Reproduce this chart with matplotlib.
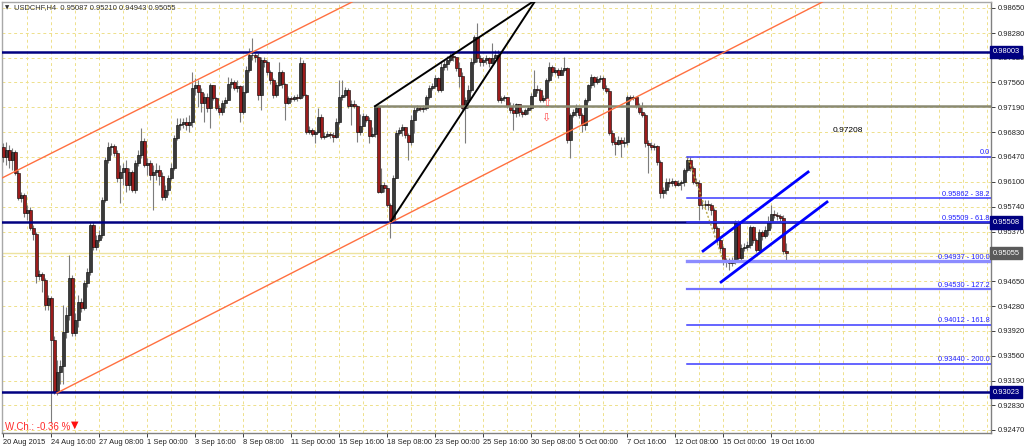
import matplotlib
matplotlib.use("Agg")
import matplotlib.pyplot as plt
import matplotlib.transforms as mtransforms
import numpy as np

# ---------------- data (USDCHF H4, prices in pips: value/1e4) ----------------
symbol_header = "USDCHF,H4  0.95087 0.95210 0.94943 0.95055"
first_open = 9661
closes = [
    9646, 9657, 9642, 9654, 9623, 9587, 9591, 9565, 9569, 9543,
    9534, 9472, 9475, 9467, 9430, 9440, 9379, 9302, 9332, 9340,
    9390, 9415, 9469, 9389, 9408, 9434, 9425, 9462, 9478, 9547,
    9515, 9525, 9532, 9584, 9642, 9661, 9662, 9652, 9616, 9624,
    9630, 9606, 9624, 9598, 9638, 9649, 9670, 9635, 9638, 9620,
    9624, 9628, 9619, 9588, 9598, 9616, 9630, 9674, 9693, 9695,
    9698, 9693, 9698, 9747, 9752, 9741, 9726, 9734, 9718, 9752,
    9733, 9718, 9712, 9726, 9730, 9753, 9756, 9748, 9750, 9712,
    9742, 9774, 9796, 9796, 9793, 9737, 9788, 9786, 9771, 9759,
    9737, 9752, 9771, 9753, 9726, 9733, 9731, 9734, 9733, 9784,
    9737, 9683, 9686, 9680, 9683, 9705, 9676, 9677, 9680, 9679,
    9676, 9698, 9734, 9737, 9745, 9721, 9724, 9721, 9683, 9692,
    9707, 9701, 9677, 9680, 9720, 9595, 9606, 9601, 9576, 9554,
    9616, 9682, 9686, 9690, 9679, 9668, 9701, 9715, 9718, 9717,
    9718, 9734, 9748, 9750, 9762, 9745, 9778, 9783, 9788, 9794,
    9793, 9777, 9765, 9718, 9730, 9745, 9786, 9822, 9791, 9786,
    9788, 9791, 9784, 9791, 9796, 9730, 9733, 9734, 9721, 9715,
    9711, 9724, 9712, 9709, 9715, 9718, 9736, 9746, 9745, 9730,
    9733, 9759, 9778, 9771, 9774, 9767, 9774, 9777, 9671, 9708,
    9712, 9718, 9708, 9693, 9730, 9752, 9764, 9756, 9761, 9762,
    9748, 9743, 9682, 9668, 9666, 9671, 9667, 9668, 9734, 9733,
    9734, 9721, 9712, 9708, 9667, 9664, 9661, 9663, 9639, 9594,
    9598, 9610, 9608, 9611, 9606, 9608, 9610, 9628, 9642, 9630,
    9610, 9608, 9576, 9576, 9578, 9576, 9569, 9543, 9525, 9513,
    9493, 9493, 9491, 9496, 9551, 9499, 9513, 9515, 9518, 9544,
    9525, 9510, 9537, 9531, 9540, 9551, 9563, 9562, 9560, 9557,
    9508.7, 9505.5,
]
highs = [
    9667, 9668, 9664, 9659, 9657, 9628, 9595, 9594, 9576, 9573,
    9547, 9537, 9481, 9478, 9469, 9444, 9443, 9384, 9349, 9349,
    9430, 9427, 9503, 9474, 9418, 9444, 9440, 9467, 9484, 9551,
    9551, 9532, 9540, 9588, 9646, 9668, 9667, 9665, 9657, 9635,
    9638, 9642, 9630, 9628, 9642, 9657, 9689, 9674, 9645, 9642,
    9635, 9638, 9635, 9624, 9606, 9620, 9638, 9679, 9703, 9703,
    9703, 9705, 9708, 9771, 9762, 9759, 9748, 9740, 9740, 9755,
    9742, 9734, 9723, 9730, 9734, 9764, 9762, 9759, 9759, 9752,
    9752, 9780, 9806, 9821, 9799, 9799, 9793, 9793, 9788, 9774,
    9762, 9756, 9786, 9774, 9755, 9736, 9736, 9737, 9739, 9793,
    9788, 9739, 9692, 9689, 9686, 9718, 9709, 9683, 9685, 9683,
    9683, 9704, 9759, 9759, 9749, 9748, 9730, 9730, 9723, 9709,
    9711, 9709, 9705, 9690, 9723, 9721, 9630, 9610, 9606, 9579,
    9620, 9686, 9690, 9695, 9686, 9682, 9708, 9721, 9723, 9721,
    9723, 9737, 9752, 9755, 9767, 9764, 9786, 9788, 9794, 9799,
    9797, 9791, 9786, 9771, 9734, 9752, 9791, 9825, 9843, 9796,
    9793, 9796, 9793, 9813, 9803, 9803, 9736, 9737, 9734, 9727,
    9726, 9726, 9721, 9715, 9718, 9721, 9740, 9774, 9752, 9748,
    9737, 9762, 9786, 9781, 9778, 9777, 9778, 9793, 9778, 9711,
    9717, 9724, 9715, 9711, 9733, 9753, 9768, 9765, 9765, 9767,
    9765, 9752, 9748, 9686, 9676, 9677, 9676, 9676, 9737, 9737,
    9737, 9734, 9726, 9727, 9711, 9671, 9668, 9667, 9664, 9642,
    9603, 9616, 9616, 9616, 9613, 9613, 9613, 9630, 9647, 9647,
    9633, 9616, 9613, 9584, 9584, 9584, 9579, 9572, 9546, 9528,
    9516, 9499, 9499, 9500, 9554, 9554, 9519, 9521, 9524, 9547,
    9546, 9528, 9541, 9540, 9546, 9560, 9576, 9569, 9566, 9563,
    9562, 9521.0,
]
lows = [
    9639, 9635, 9630, 9628, 9620, 9584, 9581, 9559, 9554, 9540,
    9525, 9462, 9467, 9449, 9423, 9423, 9257, 9300, 9298, 9315,
    9314, 9381, 9408, 9384, 9384, 9398, 9420, 9423, 9456, 9474,
    9510, 9510, 9522, 9528, 9581, 9638, 9649, 9648, 9610, 9579,
    9606, 9595, 9598, 9595, 9594, 9633, 9645, 9632, 9620, 9613,
    9569, 9613, 9606, 9584, 9584, 9591, 9613, 9628, 9671, 9686,
    9689, 9686, 9683, 9690, 9737, 9720, 9712, 9698, 9712, 9689,
    9730, 9715, 9708, 9708, 9718, 9730, 9748, 9745, 9742, 9698,
    9709, 9740, 9771, 9788, 9786, 9730, 9715, 9778, 9767, 9753,
    9733, 9734, 9750, 9748, 9701, 9724, 9727, 9728, 9728, 9731,
    9734, 9680, 9680, 9677, 9667, 9682, 9673, 9673, 9676, 9674,
    9668, 9674, 9695, 9730, 9734, 9718, 9693, 9718, 9668, 9679,
    9693, 9698, 9667, 9676, 9676, 9594, 9594, 9595, 9573, 9528,
    9551, 9616, 9679, 9677, 9674, 9642, 9664, 9682, 9712, 9714,
    9712, 9715, 9731, 9745, 9748, 9742, 9742, 9774, 9774, 9786,
    9787, 9772, 9749, 9715, 9667, 9718, 9742, 9783, 9786, 9780,
    9780, 9783, 9778, 9786, 9791, 9727, 9726, 9728, 9718, 9711,
    9686, 9705, 9707, 9705, 9708, 9709, 9715, 9742, 9740, 9727,
    9727, 9733, 9756, 9765, 9768, 9762, 9767, 9771, 9667, 9645,
    9705, 9707, 9704, 9683, 9686, 9727, 9748, 9749, 9753, 9756,
    9745, 9740, 9679, 9664, 9649, 9664, 9647, 9661, 9664, 9728,
    9730, 9718, 9709, 9705, 9661, 9623, 9657, 9657, 9635, 9587,
    9587, 9592, 9603, 9604, 9603, 9604, 9598, 9604, 9625, 9626,
    9607, 9604, 9554, 9570, 9572, 9569, 9562, 9537, 9521, 9509,
    9488, 9486, 9481, 9487, 9490, 9493, 9496, 9509, 9510, 9513,
    9521, 9507, 9507, 9525, 9528, 9532, 9543, 9557, 9554, 9553,
    9505, 9494.3,
]

x_labels = ["20 Aug 2015", "24 Aug 16:00", "27 Aug 08:00", "1 Sep 00:00",
            "3 Sep 16:00", "8 Sep 08:00", "11 Sep 00:00", "15 Sep 16:00",
            "18 Sep 08:00", "23 Sep 00:00", "25 Sep 16:00", "30 Sep 08:00",
            "5 Oct 00:00", "7 Oct 16:00", "12 Oct 08:00", "15 Oct 00:00",
            "19 Oct 16:00"]
bars_per_label = 16
y_ticks = [0.98650, 0.98280, 0.97920, 0.97560, 0.97190, 0.96830, 0.96470,
           0.96100, 0.95740, 0.95370, 0.95010, 0.94650, 0.94280, 0.93920,
           0.93560, 0.93190, 0.92830, 0.92470]
sr_levels = [0.98003, 0.95508, 0.93023]
pivot_level = 0.97208
bid_price = 0.95055
fib_prices = [0.96470, 0.95862, 0.95509, 0.94937, 0.94530, 0.94012, 0.93440]
fib_ratios = ["0.0", "38.2", "61.8", "100.0", "127.2", "161.8", "200.0"]
week_change = "W.Ch.: -0.36 %"

# trend objects: (bar index, price) endpoints
orange_upper = [(-0.5, 0.96158), (116.2, 0.98734)]
orange_lower = [(17.8, 0.93012), (273.0, 0.98734)]
wedge_upper = [(123.8, 0.97208), (176.3, 0.98734)]
wedge_lower = [(129.2, 0.95529), (177.0, 0.98734)]
blue_upper = [(233.2, 0.95090), (268.2, 0.96246)]
blue_lower = [(239.2, 0.94636), (274.5, 0.95807)]
fib_anchor = [(228.0, 0.96470), (240.0, 0.94937)]
arrow_up = (181.2, 0.97256)
arrow_down = (180.8, 0.97036)

# ---------------- figure ----------------
W, H = 1024, 447
fig = plt.figure(figsize=(W / 100, H / 100), dpi=100, facecolor="white")
ax = fig.add_axes([2 / W, 14 / H, 989 / W, 431 / H])
ax.set_facecolor("white")
FONT = ["Liberation Sans", "DejaVu Sans"]

c = np.array(closes, dtype=float) / 1e4
h = np.array(highs, dtype=float) / 1e4
l = np.array(lows, dtype=float) / 1e4
o = np.concatenate([[first_open / 1e4], c[:-1]])
h = np.maximum(h, np.maximum(o, c))
l = np.minimum(l, np.minimum(o, c))
idx = np.arange(len(c))

ymin, ymax = 0.92426, 0.98734
xmin, xmax = -0.5, 329.17
ax.set_xlim(xmin, xmax)
ax.set_ylim(ymin, ymax)

# grid
grid_kw = dict(color="#EEE08A", lw=0.7, ls=(0, (3, 3)), zorder=1)
for yv in y_ticks:
    ax.axhline(yv, **grid_kw)
for gx in range(8, 330, 8):
    ax.axvline(gx, **grid_kw)

# bid line
ax.axhline(bid_price, color="#EDE3A0", lw=1.0, zorder=2)

# candles
ax.vlines(idx, l, h, color="#7c7c7c", lw=0.8, zorder=3)
bull = c >= o
bear = ~bull
min_h = 0.00004
ax.bar(idx[bull], np.maximum(c[bull] - o[bull], min_h), bottom=o[bull],
       width=0.72, color="#3a3a3a", edgecolor="black", lw=0.4, zorder=4)
ax.bar(idx[bear], np.maximum(o[bear] - c[bear], min_h), bottom=c[bear],
       width=0.72, color="#9c1c1c", edgecolor="black", lw=0.4, zorder=4)

# horizontal S/R lines
for lv in sr_levels:
    ax.axhline(lv, color="#000080", lw=1.8, zorder=5)
ax.plot([wedge_upper[0][0], xmax], [pivot_level, pivot_level],
        color="#8a8a72", lw=1.8, zorder=5)

def seg(pts, **kw):
    ax.plot([pts[0][0], pts[1][0]], [pts[0][1], pts[1][1]], **kw)

seg(orange_upper, color="#FF7040", lw=1.0, zorder=5)
seg(orange_lower, color="#FF7040", lw=1.0, zorder=5)
seg(wedge_upper, color="black", lw=1.4, zorder=6)
seg(wedge_lower, color="black", lw=1.4, zorder=6)
seg(blue_upper, color="#0000FF", lw=2.0, zorder=6)
seg(blue_lower, color="#0000FF", lw=2.0, zorder=6)
seg(fib_anchor, color="#B8A848", lw=1.0, ls=(0, (1.5, 1.5)), zorder=5)

# fibonacci levels
fib_start = fib_anchor[0][0]
for fp, fr in zip(fib_prices, fib_ratios):
    if fr == "100.0":
        col, lw = "#8C8CFF", 2.4
    elif fr == "127.2":
        col, lw = "#7070FF", 1.6
    else:
        col, lw = "#3A3AFF", 1.1
    ax.plot([fib_start, xmax], [fp, fp], color=col, lw=lw, zorder=5)
    lab = fr if fr == "0.0" else f"{fp:.5f} - {fr}"
    ax.text(xmax - 0.5, fp + 0.00006, lab, ha="right", va="bottom",
            color="#2020FF", fontsize=5.3, family=FONT, zorder=7)

# arrows and text objects
ax.text(*arrow_up, "\u21e7", color="#FF5050", fontsize=8, ha="center",
        va="center", zorder=7)
ax.text(*arrow_down, "\u21e9", color="#FF5050", fontsize=8, ha="center",
        va="center", zorder=7)
ax.text(276.5, 0.96860, f"{pivot_level:.5f}", color="black", fontsize=6,
        family=FONT, ha="left", va="center", zorder=7)

# axes styling
for side in ("left", "top"):
    ax.spines[side].set_color("#A8A8A8")
for side in ("right", "bottom"):
    ax.spines[side].set_color("#808080")
for sp in ax.spines.values():
    sp.set_linewidth(1.0)

# y tick labels (the one hidden behind the bid box in the terminal is left blank)
ax.yaxis.tick_right()
ax.set_yticks(y_ticks)
ax.set_yticklabels(["" if abs(v - bid_price) < 0.001 else f"{v:.5f}"
                    for v in y_ticks], fontsize=5.4, family=FONT,
                   color="#202020")
ax.tick_params(axis="y", direction="out", length=3, width=0.7, pad=2,
               colors="#404040", labelcolor="#202020")

xt = np.arange(len(x_labels)) * bars_per_label
ax.set_xticks(xt)
ax.set_xticklabels(x_labels, fontsize=5.4, family=FONT, color="#202020")
for t in ax.get_xticklabels():
    t.set_ha("left")
ax.tick_params(axis="x", direction="out", length=3, width=0.7, pad=1.5,
               colors="#404040", labelcolor="#202020")

# price boxes on the right axis
ytrans = mtransforms.blended_transform_factory(ax.transAxes, ax.transData)
for lv in sr_levels:
    ax.text(1.0015, lv, f"{lv:.5f}", transform=ytrans, ha="left",
            va="center", fontsize=5.4, family=FONT, color="white", zorder=10,
            clip_on=False,
            bbox=dict(boxstyle="square,pad=0.35", fc="#000080", ec="#000080"))
ax.text(1.0015, bid_price, f"{bid_price:.5f}", transform=ytrans, ha="left",
        va="center", fontsize=5.4, family=FONT, color="white", zorder=10,
        clip_on=False,
        bbox=dict(boxstyle="square,pad=0.35", fc="#5a5a5a", ec="#5a5a5a"))

# header and weekly change
fig.text(5 / W, 1 - 8 / H, "\u25bc", fontsize=4, color="#303030",
         va="center", ha="left")
fig.text(14 / W, 1 - 8 / H, symbol_header, fontsize=5.4, family=FONT,
         color="#303030", va="center", ha="left")
fig.text(5 / W, 1 - 427 / H, week_change, fontsize=7, family=FONT,
         color="#FF2A2A", va="center", ha="left")
fig.text(71 / W, 1 - 425 / H, "\u25bc", fontsize=7, color="#FF1010",
         va="center", ha="left")

fig.savefig("out.png", dpi=100, facecolor="white")
